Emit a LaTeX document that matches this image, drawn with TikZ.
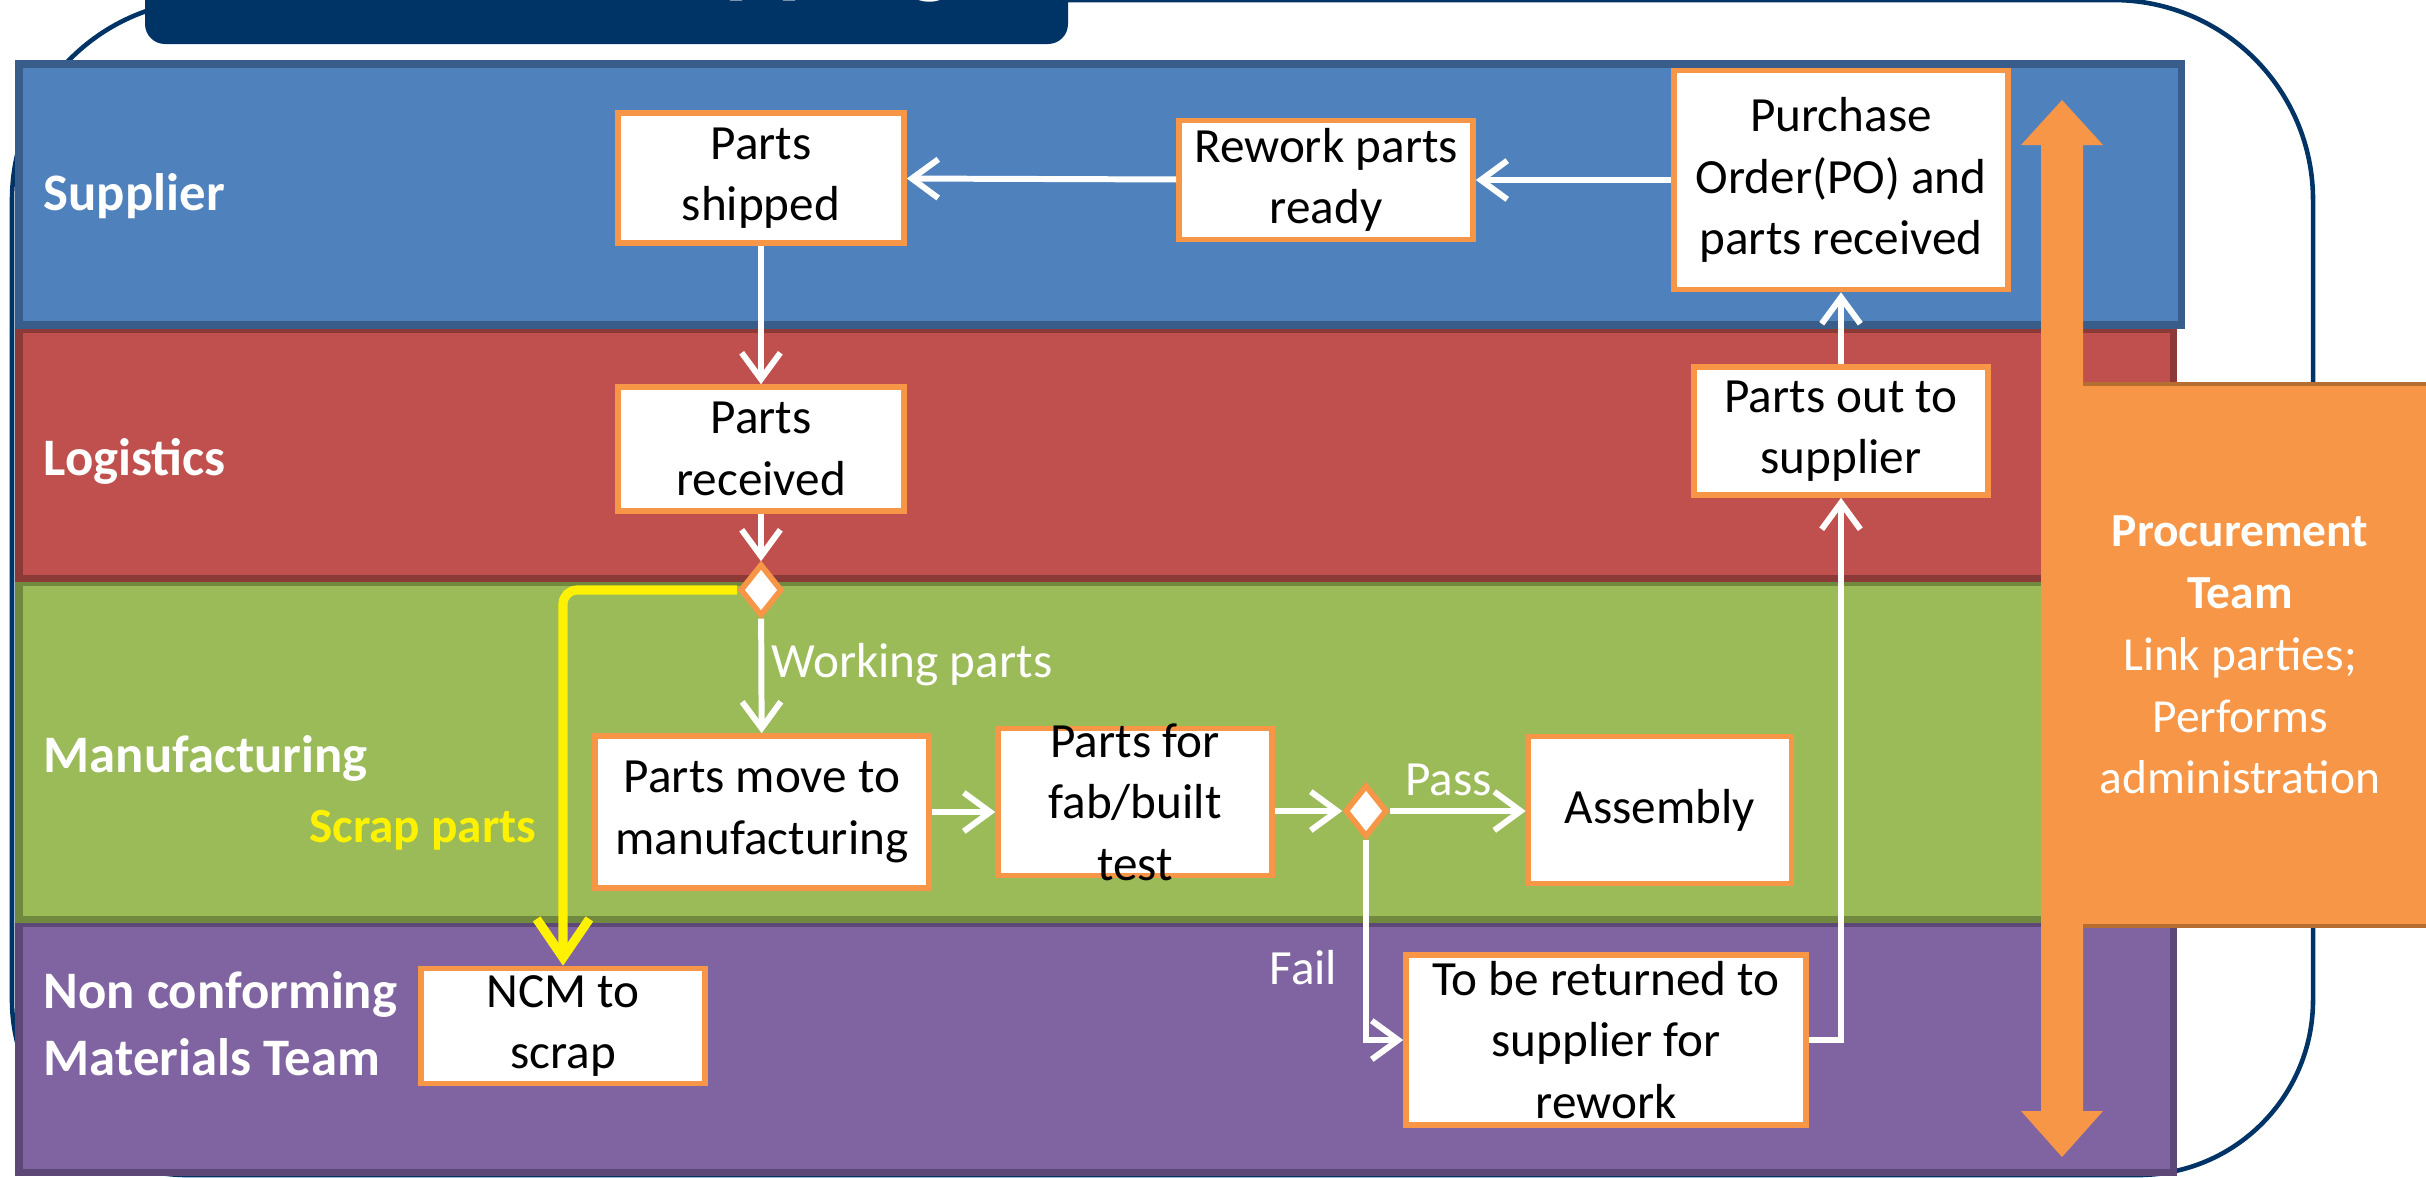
\documentclass[tikz,border=0pt]{standalone}
\usepackage{fontspec}
\setmainfont{Carlito}
\usetikzlibrary{arrows.meta,shapes.geometric,positioning}

\definecolor{navy}{HTML}{003366}
\definecolor{supfill}{HTML}{4F81BD}
\definecolor{supline}{HTML}{385D8A}
\definecolor{logfill}{HTML}{C0504D}
\definecolor{logline}{HTML}{8C3A38}
\definecolor{manfill}{HTML}{9BBB59}
\definecolor{manline}{HTML}{71893F}
\definecolor{ncmfill}{HTML}{8064A2}
\definecolor{ncmline}{HTML}{5C4776}
\definecolor{procorange}{HTML}{F79646}
\definecolor{procline}{HTML}{B66D31}

\tikzset{
  lane/.style={line width=2pt},
  stepbox/.style={draw=procorange, fill=white, line width=1.6pt, align=center, inner sep=1pt, font=\fontsize{14}{17.5}\selectfont},
  gate/.style={diamond, draw=procorange, fill=white, line width=1.6pt, minimum width=0.42cm, minimum height=0.52cm, inner sep=0pt},
  flow/.style={draw=white, line width=1.7pt, -{Straight Barb[length=7.5pt,width=11pt]}},
  scrapflow/.style={draw=yellow, line width=2.6pt, rounded corners=4pt, -{Straight Barb[length=11pt,width=15pt]}},
  lanelabel/.style={text=white, font=\bfseries\fontsize{15}{19}\selectfont, align=left, anchor=west, inner sep=0pt},
  flowlabel/.style={text=white, font=\fontsize{14}{17}\selectfont},
}

\begin{document}
\begin{tikzpicture}
\useasboundingbox (0,0) rectangle (24.26,-11.77);

% outline round the lanes
\draw[navy, line width=1.3pt] (0.12,-10.0) -- (0.12,-2.0) arc[start angle=180, end angle=90, radius=2]
  -- (21.13,0) arc[start angle=90, end angle=0, radius=2]
  -- (23.13,-10.0) arc[start angle=0, end angle=-90, radius=1.75]
  -- (1.87,-11.75) arc[start angle=270, end angle=180, radius=1.75];

% swimlanes
\draw[lane, draw=ncmline, fill=ncmfill] (0.19,-9.23) rectangle (21.73,-11.72);
\draw[lane, draw=manline, fill=manfill] (0.19,-5.82) rectangle (21.73,-9.19);
\draw[lane, draw=logline, fill=logfill] (0.19,-3.29) rectangle (21.73,-5.78);
\draw[lane, draw=supline, fill=supfill] (0.19,-0.64) rectangle (21.81,-3.25);

% title, only its lowest part is on the page
\fill[navy, rounded corners=0.2cm] (1.45,0.8) rectangle (10.68,-0.44);
\node[anchor=base, text=white, font=\bfseries\fontsize{28}{30}\selectfont] (title) at (6.07,0.15) {Process Mapping};

% procurement team
\fill[procorange] (20.41,-1.45) -- (20.21,-1.45) -- (20.62,-1.00) -- (21.03,-1.45) -- (20.83,-1.45)
  -- (20.83,-11.11) -- (21.03,-11.11) -- (20.62,-11.57) -- (20.21,-11.11) -- (20.41,-11.11) -- cycle;
\fill[procorange] (20.83,-3.84) rectangle (24.4,-9.26);
\draw[procline, line width=1.2pt] (20.83,-3.84) -- (24.4,-3.84);
\draw[procline, line width=1.2pt] (20.83,-9.26) -- (24.4,-9.26);
\node[text=white, align=center, font=\fontsize{13.5}{17.6}\selectfont] (proc) at (22.40,-6.55)
  {\textbf{Procurement}\\\textbf{Team}\\Link parties;\\Performs\\administration};

% lane names
\node[lanelabel] (supplier) at (0.43,-1.96) {Supplier};
\node[lanelabel] (logistics) at (0.43,-4.61) {Logistics};
\node[lanelabel] (manufacturing) at (0.43,-7.58) {Manufacturing};
\node[lanelabel] (ncmteam) at (0.43,-10.24) {Non conforming\\Materials Team};

% steps
\node[stepbox, minimum width=2.86cm, minimum height=1.30cm] (shipped) at (7.61,-1.78) {Parts\\shipped};
\node[stepbox, minimum width=2.94cm, minimum height=1.19cm] (rework) at (13.26,-1.80) {Rework parts\\ready};
\node[stepbox, minimum width=3.34cm, minimum height=2.19cm] (po) at (18.41,-1.80) {Purchase\\Order(PO) and\\parts received};
\node[stepbox, minimum width=2.86cm, minimum height=1.24cm] (received) at (7.61,-4.49) {Parts\\received};
\node[stepbox, minimum width=2.94cm, minimum height=1.28cm] (outsup) at (18.41,-4.31) {Parts out to\\supplier};
\node[gate] (split) at (7.61,-5.90) {};
\node[stepbox, minimum width=3.34cm, minimum height=1.52cm] (move) at (7.62,-8.12) {Parts move to\\manufacturing};
\node[stepbox, minimum width=2.74cm, minimum height=1.47cm, inner ysep=-3.5pt] (fab) at (11.35,-8.02) {Parts for\\fab/built\\test};
\node[gate] (check) at (13.66,-8.11) {};
\node[stepbox, minimum width=2.63cm, minimum height=1.47cm] (assembly) at (16.60,-8.10) {Assembly};
\node[stepbox, minimum width=4.00cm, minimum height=1.70cm] (return) at (16.06,-10.40) {To be returned to\\supplier for\\rework};
\node[stepbox, minimum width=2.84cm, minimum height=1.15cm] (ncm) at (5.63,-10.26) {NCM to\\scrap};

% flows
\draw[flow] (po) -- (rework);
\draw[flow] (rework) -- (shipped);
\draw[flow] (shipped) -- (received);
\draw[flow] (received) -- (split);
\draw[flow] (split) -- node[flowlabel, pos=0.4, right, inner sep=2pt] {Working parts} (move);
\draw[scrapflow] (split.west) -| node[pos=0.82, left=3pt, text=yellow, font=\bfseries\fontsize{14}{17}\selectfont] {Scrap parts} (ncm.north);
\draw[flow] (move) -- (move -| fab.west);
\draw[flow] (check -| fab.east) -- (check);
\draw[flow] (check) -- node[flowlabel, pos=0.43, above] {Pass} (check -| assembly.west);
\draw[flow] (check) |- node[flowlabel, pos=0.32, left=4pt] {Fail} (return);
\draw[flow] (return) -| (outsup);
\draw[flow] (outsup) -- (po);
\end{tikzpicture}
\end{document}
